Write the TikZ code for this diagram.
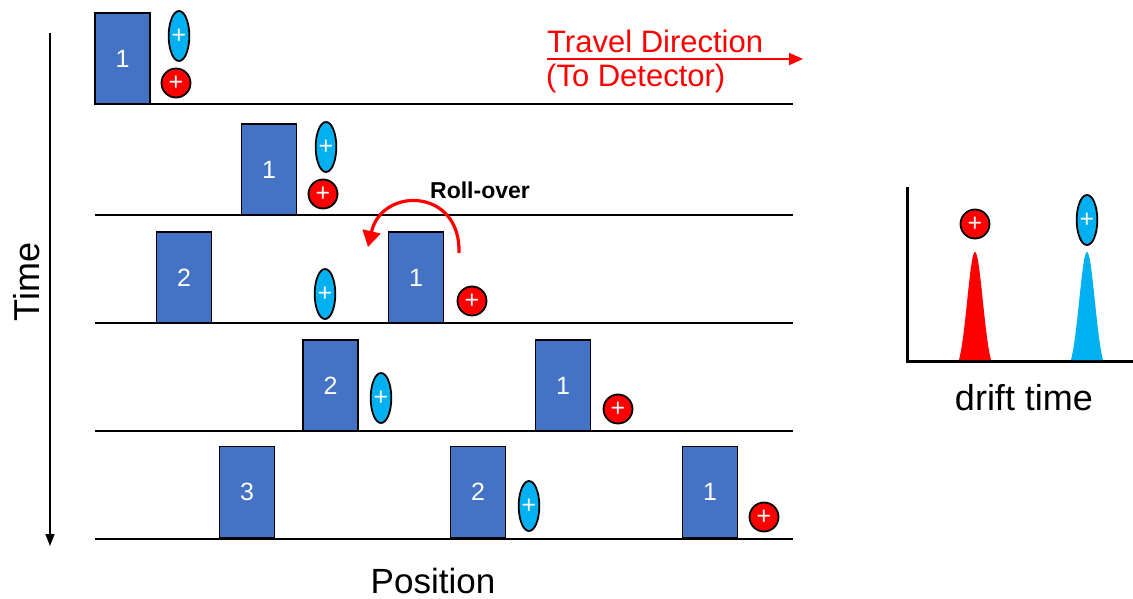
\documentclass[tikz,border=0pt]{standalone}
\usepackage{fontspec}
\setmainfont{Liberation Sans}
\usetikzlibrary{arrows.meta,shapes.geometric}
\definecolor{boxblue}{HTML}{4472C4}
\definecolor{ioncyan}{HTML}{00B0F0}
\definecolor{ionred}{HTML}{FF0000}
\tikzset{
  wave/.style={draw=black, line width=1.8pt, fill=boxblue, minimum width=55pt, minimum height=91pt, inner sep=0pt,
    text=white, font=\fontsize{25}{25}\selectfont},
  baseline/.style={line width=1.8pt},
  longion/.style={ellipse, draw=black, line width=1.8pt, fill=ioncyan, minimum width=18pt, minimum height=50pt, inner sep=0pt,
    text=white, font=\fontsize{25}{25}\selectfont},
  roundion/.style={circle, draw=black, line width=1.8pt, fill=ionred, minimum size=29pt, inner sep=0pt,
    text=white, font=\fontsize{25}{25}\selectfont},
  bigtext/.style={font=\fontsize{36}{36}\selectfont, inner sep=0pt},
  redtext/.style={text=ionred, font=\fontsize{31}{31}\selectfont, anchor=west, inner sep=0pt},
}
\begin{document}
\begin{tikzpicture}[x=1pt, y=-1pt]
\useasboundingbox (0,0) rectangle (1133,599);

% baselines of the five time steps
\foreach \yy/\n in {104/a,215/b,323/c,431/d,539/e}{
  \coordinate (l\n) at (95,\yy);
  \coordinate (r\n) at (793,\yy);
  \draw[baseline] (l\n) -- (r\n);
}

% step 1
\node[wave] (w11) at (122.5,58.5) {1};
\node[longion] (c1) at (179,36) {+};
\node[roundion] (r1) at (176,83) {+};

% step 2
\node[wave] (w21) at (269,169.5) {1};
\node[longion] (c2) at (326,147) {+};
\node[roundion] (r2) at (323,194) {+};

% step 3
\node[wave] (w32) at (184,277.5) {2};
\node[wave] (w31) at (416,277.5) {1};
\node[longion] (c3) at (325,294) {+};
\node[roundion] (r3) at (472,301) {+};
\node[font=\bfseries\fontsize{23}{23}\selectfont, inner sep=0pt] (roll) at (480,190) {Roll-over};
\coordinate (rs) at (459,253);
\coordinate (re) at (368,247);
\draw[ionred, line width=3.2pt, -{Triangle[length=16pt,width=18pt]}]
  (rs) .. controls (461,188) and (382,186) .. (re);

% step 4
\node[wave] (w42) at (330.5,385.5) {2};
\node[wave] (w41) at (563,385.5) {1};
\node[longion] (c4) at (381,398) {+};
\node[roundion] (r4) at (618,409) {+};

% step 5
\node[wave] (w53) at (247,492) {3};
\node[wave] (w52) at (478,492) {2};
\node[wave] (w51) at (710,492) {1};
\node[longion] (c5) at (529,506) {+};
\node[roundion] (r5) at (764,517) {+};

% travel direction
\node[redtext] (td) at (547,41) {Travel Direction};
\node[redtext] (tt) at (546,78) {(To Detector)};
\coordinate (ts) at (547,59);
\coordinate (te) at (803,59);
\draw[ionred, line width=2pt, -{Triangle[length=14pt,width=12pt]}] (ts) -- (te);

% time axis
\coordinate (t0) at (50,33);
\coordinate (t1) at (50,546);
\draw[line width=1.5pt, -{Triangle[length=12pt,width=9pt]}] (t0) -- (t1);
\node[bigtext, rotate=90] (time) at (27,282) {Time};
\node[bigtext, font=\fontsize{35}{35}\selectfont] (pos) at (433,581) {Position};

% arrival time distribution
\coordinate (ax0) at (907,187);
\coordinate (ax1) at (907,361);
\coordinate (ax2) at (1133,361);
\draw[line width=3pt] (ax0) -- (ax1) -- (ax2);
\fill[ionred] (959,360) -- plot[domain=-16:16, samples=60, smooth] ({975+\x},{360-108*(exp(-(\x/11)^2)-0.12)/0.88}) -- (991,360) -- cycle;
\fill[ioncyan] (1071,360) -- plot[domain=-16:16, samples=60, smooth] ({1087+\x},{360-108*(exp(-(\x/11)^2)-0.12)/0.88}) -- (1103,360) -- cycle;
\node[roundion] (rp) at (975,224) {+};
\node[longion] (cp) at (1087,220) {+};
\node[bigtext] (dt) at (1024,398) {drift time};
\end{tikzpicture}
\end{document}
